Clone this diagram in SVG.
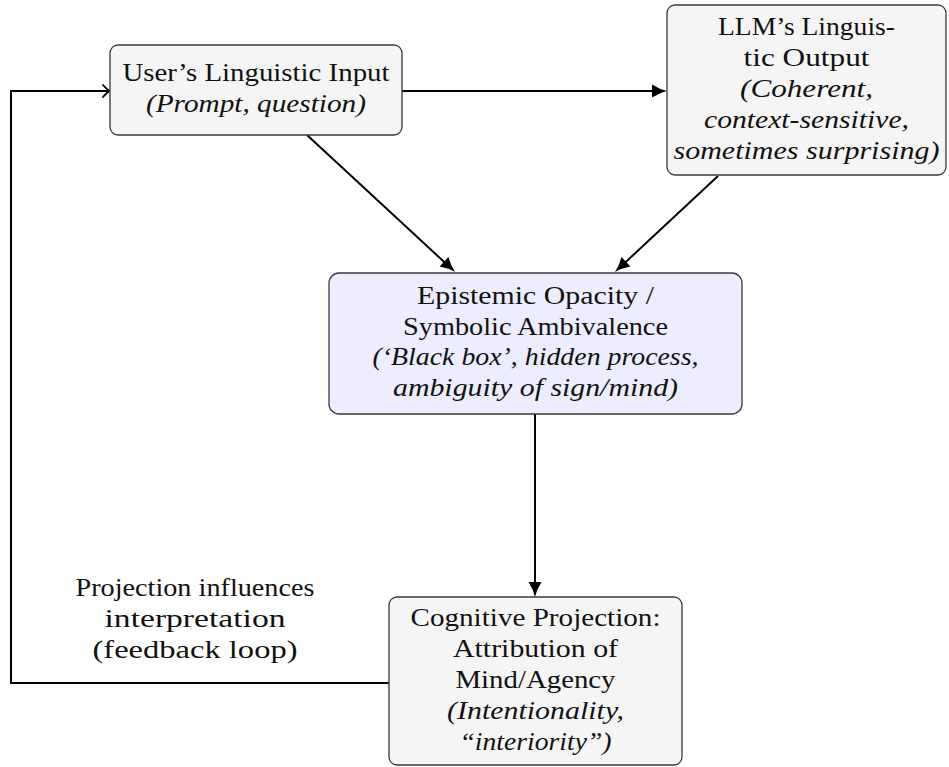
<svg xmlns="http://www.w3.org/2000/svg" width="949" height="767" viewBox="0 0 949 767">
<defs>
<style>
.box{fill:#F5F5F5;stroke:#3a3a3a;stroke-width:1.3}
.blue{fill:#EDEDFF}
text{font-family:"Liberation Serif","Times New Roman",serif;font-size:26px;fill:#111;text-anchor:middle}
.it{font-style:italic}
.conn{fill:none;stroke:#000;stroke-width:2}
</style>
<marker id="latex" markerUnits="userSpaceOnUse" markerWidth="18" markerHeight="16" refX="5" refY="6.5" orient="auto" overflow="visible">
<path d="M0,0 Q7.5,4.8 15,6.5 Q7.5,8.2 0,13 Z" fill="#000"/>
</marker>
<marker id="open" markerUnits="userSpaceOnUse" markerWidth="10" markerHeight="12" refX="0" refY="0" orient="auto" overflow="visible">
<path d="M-6,-6 Q-2,-1.5 0.5,0 Q-2,1.5 -6,6" fill="none" stroke="#000" stroke-width="1.8" stroke-linecap="round"/>
</marker>
</defs>
<g id="connectors">
<line class="conn" x1="402" y1="91" x2="657" y2="91" marker-end="url(#latex)"/>
<line class="conn" x1="307" y1="135" x2="447.7" y2="265.2" marker-end="url(#latex)"/>
<line class="conn" x1="718" y1="176" x2="622.3" y2="265.2" marker-end="url(#latex)"/>
<line class="conn" x1="535" y1="414" x2="535" y2="587" marker-end="url(#latex)"/>
<path class="conn" d="M389,683 H11 V91 H109" marker-end="url(#open)"/>
</g>
<g id="feedback-label">
<text x="195" y="596" textLength="239" lengthAdjust="spacingAndGlyphs">Projection influences</text>
<text x="195" y="627" textLength="181" lengthAdjust="spacingAndGlyphs">interpretation</text>
<text x="195" y="658" textLength="205" lengthAdjust="spacingAndGlyphs">(feedback loop)</text>
</g>
<g id="user-input">
<rect class="box" x="110" y="45" width="292" height="90" rx="8"/>
<text x="256" y="81" textLength="267" lengthAdjust="spacingAndGlyphs">User’s Linguistic Input</text>
<text class="it" x="256" y="112" textLength="220" lengthAdjust="spacingAndGlyphs">(Prompt, question)</text>
</g>
<g id="llm-output">
<rect class="box" x="667" y="5" width="279" height="170" rx="8"/>
<text x="806.5" y="34.5" textLength="177" lengthAdjust="spacingAndGlyphs">LLM’s Linguis-</text>
<text x="806.5" y="65.5" textLength="126" lengthAdjust="spacingAndGlyphs">tic Output</text>
<text class="it" x="806.5" y="96.5" textLength="133" lengthAdjust="spacingAndGlyphs">(Coherent,</text>
<text class="it" x="806.5" y="127.5" textLength="205" lengthAdjust="spacingAndGlyphs">context-sensitive,</text>
<text class="it" x="806.5" y="158.5" textLength="266" lengthAdjust="spacingAndGlyphs">sometimes surprising)</text>
</g>
<g id="opacity">
<rect class="box blue" x="329" y="273" width="413" height="141" rx="10"/>
<text x="535.5" y="304" textLength="237" lengthAdjust="spacingAndGlyphs">Epistemic Opacity /</text>
<text x="535.5" y="335" textLength="265" lengthAdjust="spacingAndGlyphs">Symbolic Ambivalence</text>
<text class="it" x="535.5" y="365" textLength="326" lengthAdjust="spacingAndGlyphs">(‘Black box’, hidden process,</text>
<text class="it" x="535.5" y="396" textLength="285" lengthAdjust="spacingAndGlyphs">ambiguity of sign/mind)</text>
</g>
<g id="projection">
<rect class="box" x="389" y="597" width="293" height="168" rx="8"/>
<text x="535.5" y="625.5" textLength="250" lengthAdjust="spacingAndGlyphs">Cognitive Projection:</text>
<text x="535.5" y="656.5" textLength="165" lengthAdjust="spacingAndGlyphs">Attribution of</text>
<text x="535.5" y="687.5" textLength="160" lengthAdjust="spacingAndGlyphs">Mind/Agency</text>
<text class="it" x="535.5" y="718.5" textLength="177" lengthAdjust="spacingAndGlyphs">(Intentionality,</text>
<text class="it" x="535.5" y="749.5" textLength="152" lengthAdjust="spacingAndGlyphs">“interiority”)</text>
</g>
</svg>
